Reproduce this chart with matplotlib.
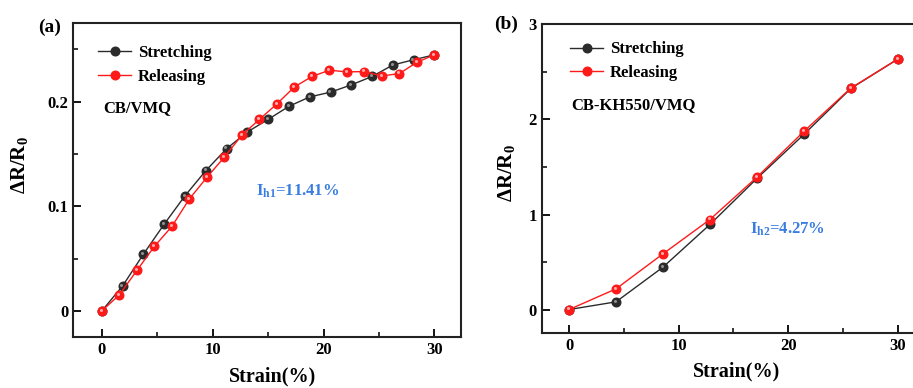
import matplotlib
matplotlib.use("Agg")
import matplotlib.pyplot as plt
import numpy as np
from matplotlib.transforms import ScaledTranslation
from matplotlib.ticker import MultipleLocator

plt.rcParams['font.family'] = ['Liberation Serif', 'DejaVu Serif']
plt.rcParams['font.weight'] = 'bold'
plt.rcParams['mathtext.fontset'] = 'custom'
plt.rcParams['mathtext.rm'] = 'Liberation Serif:bold'
plt.rcParams['mathtext.bf'] = 'Liberation Serif:bold'
plt.rcParams['mathtext.it'] = 'Liberation Serif:bold'

# (a) CB/VMQ
strain_a_st = np.linspace(0, 30, 17)
dr_a_st = [0, 0.0239, 0.0542, 0.0829, 0.110, 0.134, 0.155, 0.171, 0.183,
           0.1955, 0.2045, 0.209, 0.216, 0.224, 0.235, 0.240, 0.2447]
strain_a_re = np.linspace(0, 30, 20)
dr_a_re = [0, 0.0153, 0.0386, 0.0616, 0.0807, 0.107, 0.1276, 0.147, 0.168,
           0.183, 0.1978, 0.214, 0.224, 0.230, 0.2284, 0.2287, 0.2245,
           0.2268, 0.2376, 0.2447]

# (b) CB-KH550/VMQ
strain_b = np.linspace(0, 30, 8)
dr_b_st = [0, 0.081, 0.446, 0.895, 1.379, 1.842, 2.326, 2.635]
dr_b_re = [0, 0.2175, 0.586, 0.947, 1.393, 1.874, 2.33, 2.635]

fig = plt.figure(figsize=(9.13, 3.88), dpi=100)
ax1 = fig.add_axes([0.080, 0.1314, 0.425, 0.809])
ax2 = fig.add_axes([0.5933, 0.141, 0.42, 0.796])

blue = '#3a7de0'


def balls(ax, x, y, color, hl, label):
    ax.plot(x, y, '-o', color=color, lw=1.0, ms=6.2, mec=color, mfc=color,
            label=label)
    off = ax.transData + ScaledTranslation(-0.012, 0.012, fig.dpi_scale_trans)
    ax.plot(x, y, 'o', ms=2.2, color=hl, mec='none', alpha=0.8, transform=off)


def style(ax):
    for s in ax.spines.values():
        s.set_linewidth(1.5)
        s.set_color('#222222')
    ax.tick_params(which='major', direction='in', length=6, width=1.3,
                   labelsize=12)
    ax.tick_params(which='minor', direction='in', length=3.5, width=1.1)
    ax.xaxis.set_major_locator(MultipleLocator(10))
    ax.xaxis.set_minor_locator(MultipleLocator(5))
    for t in ax.get_xticklabels() + ax.get_yticklabels():
        t.set_fontweight('bold')


balls(ax1, strain_a_st, dr_a_st, '#2b2b2b', '#aaaaaa', 'Stretching')
balls(ax1, strain_a_re, dr_a_re, '#ff1a1a', '#ffd0d0', 'Releasing')
ax1.set_xlim(-2.6, 32.4)
ax1.set_ylim(-0.025, 0.275)
ax1.yaxis.set_major_locator(MultipleLocator(0.1))
ax1.yaxis.set_minor_locator(MultipleLocator(0.05))
ax1.set_yticks([0, 0.1, 0.2])
ax1.set_yticklabels(['0', '0.1', '0.2'])
style(ax1)

balls(ax2, strain_b, dr_b_st, '#2b2b2b', '#aaaaaa', 'Stretching')
balls(ax2, strain_b, dr_b_re, '#ff1a1a', '#ffd0d0', 'Releasing')
ax2.set_xlim(-2.5, 32.5)
ax2.set_ylim(-0.25, 3.0)
ax2.yaxis.set_major_locator(MultipleLocator(1))
ax2.yaxis.set_minor_locator(MultipleLocator(0.5))
style(ax2)

for ax, lx, ly, xx, xy in [(ax1, -0.111, 0.548, 0.513, -0.095),
                           (ax2, -0.064, 0.52, 0.508, -0.09)]:
    ax.set_ylabel(r'$\mathbf{\Delta R/R_0}$', fontsize=15)
    ax.yaxis.set_label_coords(lx, ly)
    ax.set_xlabel('Strain(%)', fontsize=14.5, fontweight='bold')
    ax.xaxis.set_label_coords(xx, xy)

leg1 = ax1.legend(loc='upper left', bbox_to_anchor=(0.064, 0.93),
                  frameon=False, fontsize=12, handlelength=2.0,
                  handletextpad=0.4, labelspacing=0.45, borderpad=0,
                  borderaxespad=0)
leg2 = ax2.legend(loc='upper left', bbox_to_anchor=(0.074, 0.945),
                  frameon=False, fontsize=12, handlelength=2.0,
                  handletextpad=0.4, labelspacing=0.45, borderpad=0,
                  borderaxespad=0)

ax1.text(0.077, 0.729, 'CB/VMQ', transform=ax1.transAxes, fontsize=12,
         fontweight='bold', va='center')
ax1.text(0.472, 0.465, r'I$_{\mathbf{h1}}$=11.41%', transform=ax1.transAxes,
         fontsize=12, fontweight='bold', color=blue, va='center')
ax2.text(0.077, 0.739, 'CB-KH550/VMQ', transform=ax2.transAxes, fontsize=12,
         fontweight='bold', va='center')
ax2.text(0.544, 0.338, r'I$_{\mathbf{h2}}$=4.27%', transform=ax2.transAxes,
         fontsize=12, fontweight='bold', color=blue, va='center')

fig.text(38 / 913, 1 - 27 / 388, '(a)', fontsize=14, fontweight='bold',
         va='center')
fig.text(494 / 913, 1 - 24 / 388, '(b)', fontsize=14, fontweight='bold',
         va='center')

fig.savefig('out.png', dpi=100)
